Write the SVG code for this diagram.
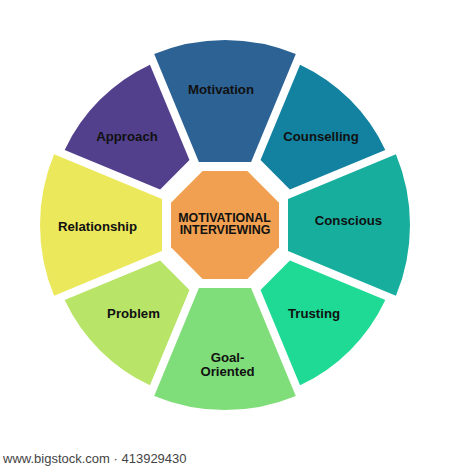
<svg xmlns="http://www.w3.org/2000/svg" width="450" height="470" viewBox="0 0 450 470">
<defs>
<style>
.lbl{font-family:"Liberation Sans",Arial,sans-serif;font-weight:bold;font-size:13.2px;fill:#111;text-anchor:middle}
.ctr{font-family:"Liberation Sans",Arial,sans-serif;font-weight:bold;font-size:12.4px;fill:#111;text-anchor:middle}
.foot{font-family:"Liberation Sans",Arial,sans-serif;font-size:13px;fill:#444}
</style>
<path id="big" d="M198.9,162 L154.2,54.08 A185,185 0 0 1 295.8,54.08 L251.1,162 Z"/>
<path id="small" d="M204.25,154 L164.73,58.58 A177,177 0 0 1 285.27,58.58 L245.75,154 Z"/>
</defs>
<rect width="450" height="470" fill="#ffffff"/>
<g id="connectors"></g>
<g id="motivation">
<use href="#big" fill="#2c6294"/>
<text class="lbl" x="221" y="94">Motivation</text>
</g>
<g id="counselling">
<use href="#small" fill="#1282a0" transform="rotate(45 225 225)"/>
<text class="lbl" x="321" y="141">Counselling</text>
</g>
<g id="conscious">
<use href="#big" fill="#18ae9e" transform="rotate(90 225 225)"/>
<text class="lbl" x="348.5" y="225">Conscious</text>
</g>
<g id="trusting">
<use href="#small" fill="#1eda94" transform="rotate(135 225 225)"/>
<text class="lbl" x="314" y="318">Trusting</text>
</g>
<g id="goal-oriented">
<use href="#big" fill="#80de7a" transform="rotate(180 225 225)"/>
<text class="lbl" x="227.5" y="362">Goal-</text>
<text class="lbl" x="227.5" y="375.5">Oriented</text>
</g>
<g id="problem">
<use href="#small" fill="#b8e468" transform="rotate(225 225 225)"/>
<text class="lbl" x="133.5" y="318">Problem</text>
</g>
<g id="relationship">
<use href="#big" fill="#ece85c" transform="rotate(270 225 225)"/>
<text class="lbl" x="97.5" y="231">Relationship</text>
</g>
<g id="approach">
<use href="#small" fill="#52408c" transform="rotate(315 225 225)"/>
<text class="lbl" x="127" y="141">Approach</text>
</g>
<g id="center">
<polygon points="202.63,171 247.37,171 279,202.63 279,247.37 247.37,279 202.63,279 171,247.37 171,202.63" fill="#f0a050"/>
<text class="ctr" x="224.5" y="221.5">MOTIVATIONAL</text>
<text class="ctr" x="225" y="234">INTERVIEWING</text>
</g>
<text class="foot" x="3" y="463">www.bigstock.com · 413929430</text>
</svg>
